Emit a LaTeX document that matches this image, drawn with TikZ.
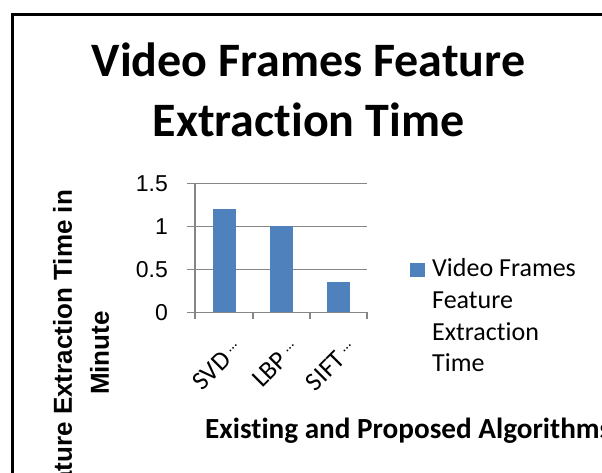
\documentclass[tikz,border=0pt]{standalone}
\usepackage{fontspec}
\setmainfont[Ligatures=NoCommon]{Carlito}
\newfontfamily\arialf{Liberation Sans}
\definecolor{barblue}{HTML}{4F81BD}
\definecolor{gridgray}{HTML}{868686}
\newcommand\catdots{\,\raisebox{0.3em}{\fontsize{15}{15}\selectfont…}}
\begin{document}
\begin{tikzpicture}[x=1pt,y=-1pt,
  frameline/.style={draw=black, line width=3pt},
  gridline/.style={draw=gridgray, line width=1.3pt},
  axisline/.style={draw=gridgray, line width=1.3pt},
  barrect/.style={fill=barblue, draw=none},
  titletext/.style={font=\bfseries\fontsize{48}{56}\selectfont, anchor=base, inner sep=0},
  ticklbl/.style={font=\arialf\fontsize{23}{27}\selectfont, anchor=east, inner sep=0},
  catlbl/.style={font=\fontsize{26}{30}\selectfont, anchor=base east, rotate=45, inner sep=0},
  ytitle/.style={font=\arialf\bfseries\fontsize{26}{37}\selectfont, rotate=90, align=center, inner sep=0},
  xtitle/.style={font=\bfseries\fontsize{29.2}{34}\selectfont, anchor=base west, inner sep=0},
  legtext/.style={font=\fontsize{26}{31.7}\selectfont, anchor=base west, inner sep=0}
]
\useasboundingbox (0,0) rectangle (602,473);
\clip (0,0) rectangle (602,473);
\fill[white] (0,0) rectangle (602,473);
% outer frame
\draw[frameline] (12,15) rectangle (640,520);
% title
\node[titletext] (t1) at (308.5,76.7) {Video Frames Feature};
\node[titletext] (t2) at (308.5,136.7) {Extraction Time};
% grid
\foreach \v/\n in {0/g0,0.5/g1,1/g2,1.5/g3}{
  \coordinate (\n l) at (187,312.3-86*\v);
  \coordinate (\n r) at (367,312.3-86*\v);
  \draw[gridline] (\n l) -- (\n r);
}
% bars
\foreach \c/\v/\n in {224.5/1.2/b1,281.5/1.0/b2,338.5/0.35/b3}{
  \fill[barrect] (\c-11.5,312.3) rectangle (\c+11.5,312.3-86*\v);
}
% axes
\coordinate (ya) at (195,183.3);
\coordinate (yb) at (195,319);
\draw[axisline] (ya) -- (yb);
\draw[axisline] (g0l) -- (g0r);
\foreach \x/\n in {253/k1,310/k2,367/k3}{
  \coordinate (\n a) at (\x,312.3);
  \coordinate (\n b) at (\x,319);
  \draw[axisline] (\n a) -- (\n b);
}
% tick labels
\node[ticklbl] (l0) at (168,312.3) {0};
\node[ticklbl] (l1) at (168,269.3) {0.5};
\node[ticklbl] (l2) at (168,226.3) {1};
\node[ticklbl] (l3) at (168,183.3) {1.5};
% category labels
\node[catlbl] (c1) at (243,351) {SVD\catdots};
\node[catlbl] (c2) at (300,351) {LBP\catdots};
\node[catlbl] (c3) at (357,351) {SIFT\catdots};
% axis titles
\node[ytitle] (yt) at (81,353) {Feature Extraction Time in\\Minute};
\node[xtitle] (xt) at (205,438) {Existing and Proposed Algorithms};
% legend
\fill[barrect] (410,262.7) rectangle (425,276.7);
\node[legtext] (e1) at (432,276.7) {Video Frames};
\node[legtext] (e2) at (432,308.4) {Feature};
\node[legtext] (e3) at (432,340.1) {Extraction};
\node[legtext] (e4) at (432,371.8) {Time};
\end{tikzpicture}
\end{document}
